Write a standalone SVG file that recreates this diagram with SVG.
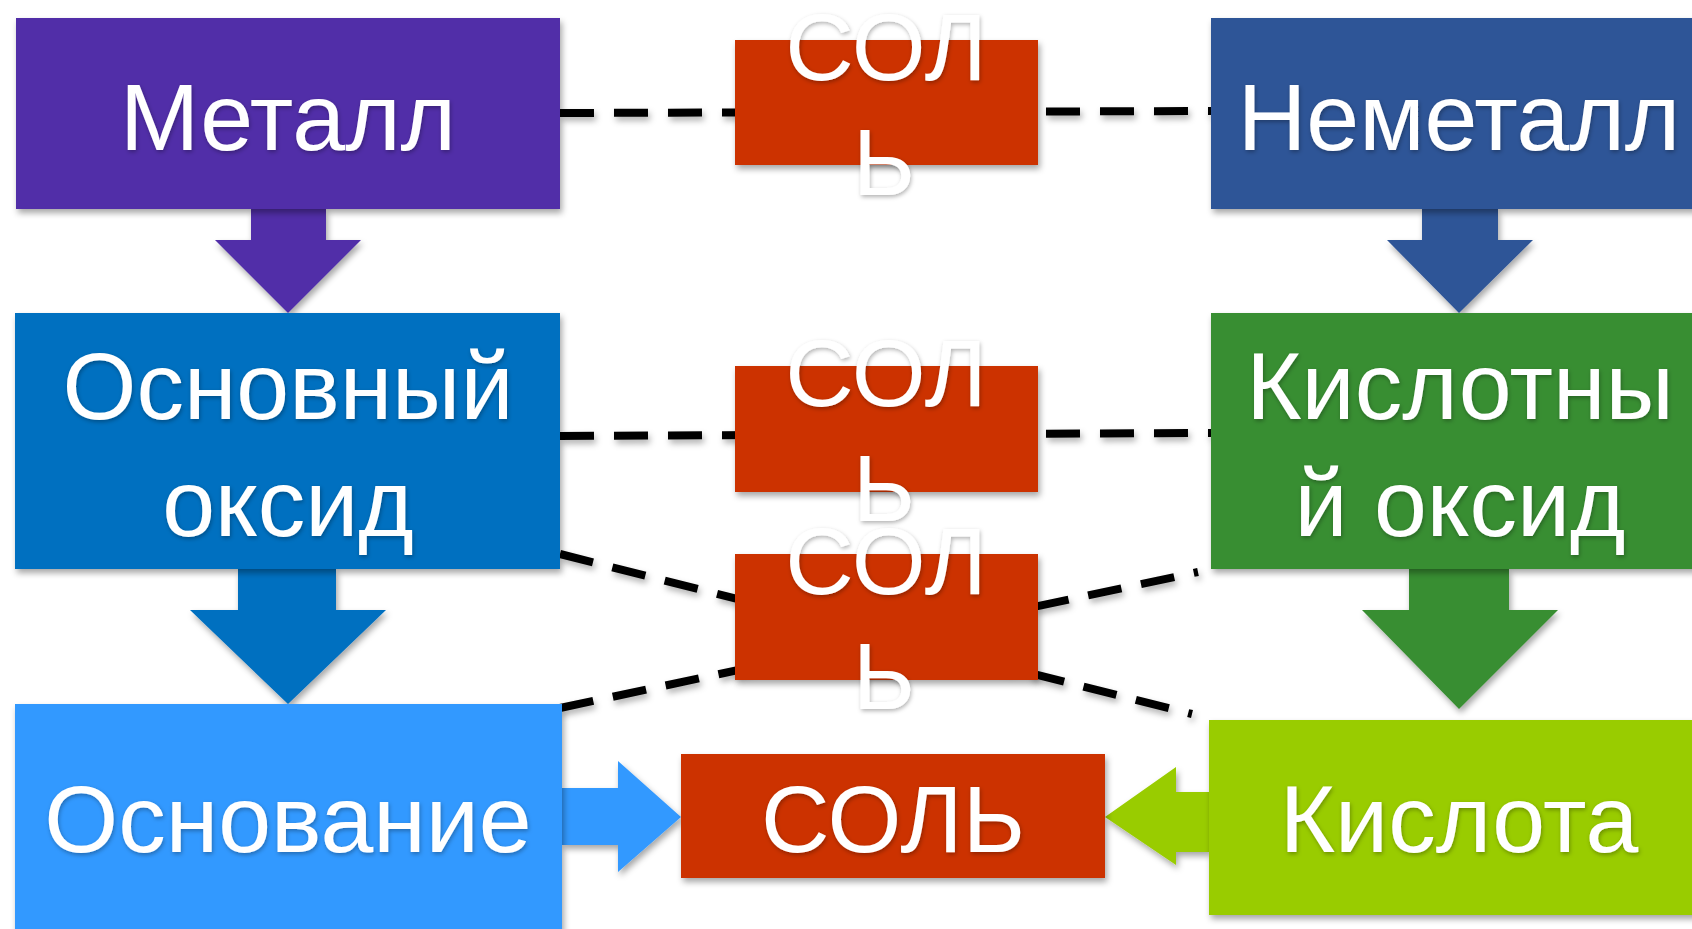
<svg xmlns="http://www.w3.org/2000/svg" width="1692" height="929" viewBox="0 0 1692 929">
<defs>
<filter id="sh" x="-10%" y="-10%" width="130%" height="130%">
<feDropShadow dx="2" dy="4" stdDeviation="3" flood-color="#000" flood-opacity="0.35"/>
</filter>
<filter id="lsh" filterUnits="userSpaceOnUse" x="0" y="0" width="1692" height="929">
<feDropShadow dx="2" dy="4" stdDeviation="3" flood-color="#000" flood-opacity="0.3"/>
</filter>
<filter id="tsh" x="-10%" y="-10%" width="130%" height="130%">
<feDropShadow dx="1" dy="2" stdDeviation="2" flood-color="#000" flood-opacity="0.3"/>
</filter>
</defs>
<style>
.t{font-family:"Liberation Sans",Arial,sans-serif;font-size:95px;fill:#fff;text-anchor:middle;filter:url(#tsh)}
.d{fill:none;stroke:#000;stroke-width:8;stroke-dasharray:34 20;filter:url(#lsh)}
.s{filter:url(#sh)}
</style>
<rect width="1692" height="929" fill="#fff"/>
<g id="connectors">
<line class="d" x1="560" y1="113" x2="1211" y2="111"/>
<line class="d" x1="560" y1="436" x2="1211" y2="433"/>
<line class="d" x1="560" y1="554" x2="1192" y2="714"/>
<line class="d" x1="560" y1="708" x2="1198" y2="572"/>
<polygon class="s" fill="#512da8" points="251,209 326,209 326,240 361,240 288,313 215,240 251,240"/>
<polygon class="s" fill="#2f5597" points="1422,209 1498,209 1498,240 1533,240 1459,313 1387,240 1422,240"/>
<polygon class="s" fill="#0070c0" points="238,569 336,569 336,610 386,610 288,704 190,610 238,610"/>
<polygon class="s" fill="#388e32" points="1409,569 1509,569 1509,610 1558,610 1459,709 1362,610 1409,610"/>
<polygon class="s" fill="#3399ff" points="562,788 618,788 618,761 681,817 618,872 618,845 562,845"/>
<polygon class="s" fill="#99cc00" points="1209,792 1176,792 1176,767 1105,817 1176,865 1176,852 1209,852"/>
</g>
<g id="metall">
<rect class="s" x="16" y="18" width="544" height="191" fill="#512da8"/>
<text class="t" x="288" y="150">Металл</text>
</g>
<g id="nemetall">
<rect class="s" x="1211" y="18" width="496" height="191" fill="#2f5597"/>
<text class="t" x="1459" y="150">Неметалл</text>
</g>
<g id="osnovnoy-oksid">
<rect class="s" x="15" y="313" width="545" height="256" fill="#0070c0"/>
<text class="t" x="288" y="419">Основный</text>
<text class="t" x="288" y="536">оксид</text>
</g>
<g id="kislotny-oksid">
<rect class="s" x="1211" y="313" width="496" height="256" fill="#388e32"/>
<text class="t" x="1460" y="419">Кислотны</text>
<text class="t" x="1460" y="536">й оксид</text>
</g>
<g id="osnovanie">
<rect class="s" x="15" y="704" width="547" height="240" fill="#3399ff"/>
<text class="t" x="288" y="852">Основание</text>
</g>
<g id="kislota">
<rect class="s" x="1209" y="720" width="498" height="195" fill="#99cc00"/>
<text class="t" x="1459" y="852">Кислота</text>
</g>
<g id="sol-1">
<rect class="s" x="735" y="40" width="303" height="125" fill="#cc3300"/>
<text class="t" x="886" y="80">СОЛ</text>
<text class="t" x="884" y="195">Ь</text>
</g>
<g id="sol-2">
<rect class="s" x="735" y="366" width="303" height="126" fill="#cc3300"/>
<text class="t" x="886" y="406">СОЛ</text>
<text class="t" x="884" y="521">Ь</text>
</g>
<g id="sol-3">
<rect class="s" x="735" y="554" width="303" height="126" fill="#cc3300"/>
<text class="t" x="886" y="594">СОЛ</text>
<text class="t" x="884" y="709">Ь</text>
</g>
<g id="sol-4">
<rect class="s" x="681" y="754" width="424" height="124" fill="#cc3300"/>
<text class="t" x="893" y="852">СОЛЬ</text>
</g>
</svg>
